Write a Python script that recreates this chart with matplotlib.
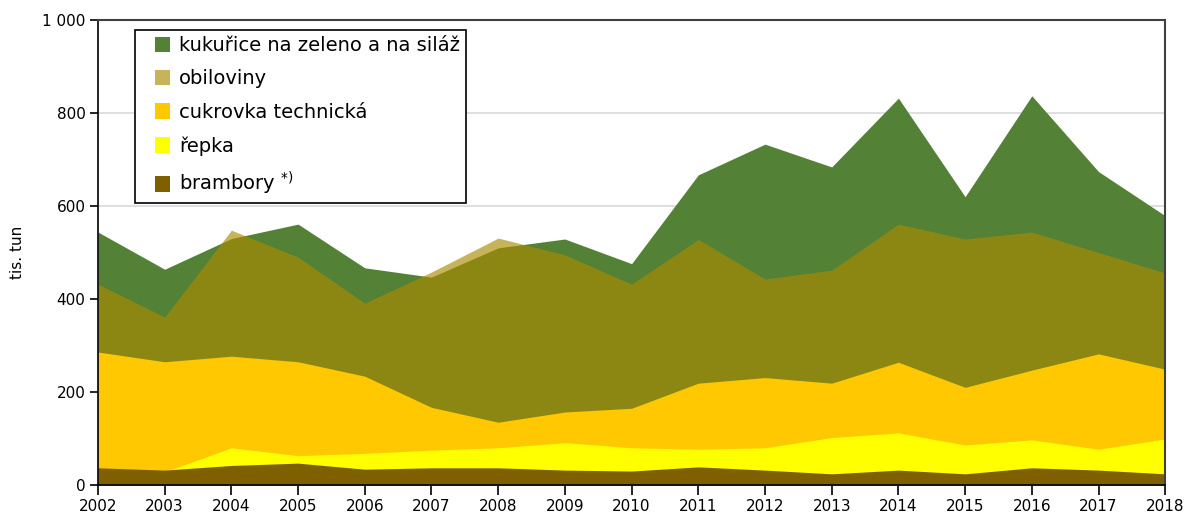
import matplotlib.pyplot as plt
from matplotlib.patches import Patch, Rectangle
from matplotlib.legend_handler import HandlerPatch
from matplotlib.ticker import FuncFormatter

years = list(range(2002, 2019))

# tis. tun
kukurice = [544, 464, 530, 561, 467, 447, 510, 529, 476, 667, 733, 684, 832, 620, 837, 674, 579]
obiloviny = [432, 361, 548, 490, 391, 458, 531, 495, 432, 528, 443, 462, 561, 529, 544, 500, 456]
cukrovka = [286, 265, 277, 265, 234, 167, 135, 157, 165, 219, 231, 219, 264, 210, 247, 282, 249]
repka = [30, 28, 80, 63, 68, 75, 80, 91, 80, 77, 80, 102, 112, 86, 97, 77, 99]
brambory = [37, 32, 42, 47, 34, 37, 37, 32, 30, 39, 32, 24, 32, 24, 37, 32, 24]

labels = ['kukuřice na zeleno a na siláž', 'obiloviny', 'cukrovka technická',
          'řepka', 'brambory $^{*)}$']
colors = ['#538135', '#AA8B00', '#FFC800', '#FFFF00', '#7F6000']
alphas = [1, 0.65, 1, 1, 1]

plt.rcParams['font.family'] = ['DejaVu Sans']


class SquareRight(HandlerPatch):
    # small square sitting at the right end of the handle box
    def create_artists(self, legend, orig, xdescent, ydescent, width, height, fontsize, trans):
        s = 11
        r = Rectangle((width - s - xdescent, height / 2 - s / 2 - ydescent), s, s,
                      facecolor=orig.get_facecolor(), edgecolor='none', transform=trans)
        return [r]


fig = plt.figure(figsize=(11.89, 5.22), dpi=100)
ax = fig.add_axes([0.0824, 0.0709, 0.8976, 0.8908])

series = [kukurice, obiloviny, cukrovka, repka, brambory]
for vals, c, a in zip(series, colors, alphas):
    ax.fill_between(years, 0, vals, color=c, alpha=a, linewidth=0, zorder=2)

ax.set_xlim(2002, 2018)
ax.set_ylim(0, 1000)
ax.set_xticks(years)
ax.set_yticks(range(0, 1001, 200))
ax.yaxis.set_major_formatter(FuncFormatter(lambda v, p: f'{int(v):,}'.replace(',', ' ')))
ax.grid(axis='y', color='#D9D9D9', linewidth=1.2, zorder=0)
ax.set_axisbelow(True)

for s in ['top', 'right']:
    ax.spines[s].set_color('#404040')
    ax.spines[s].set_linewidth(1.5)
for s in ['left', 'bottom']:
    ax.spines[s].set_color('black')
    ax.spines[s].set_linewidth(1.2)
ax.tick_params(axis='x', direction='out', length=7, width=1.2, labelsize=11, pad=3)
ax.tick_params(axis='y', direction='out', length=6, width=1.2, labelsize=11, pad=3)
ax.set_ylabel('tis. tun', fontsize=11, labelpad=12)

handles = [Patch(facecolor=c, alpha=a, edgecolor='none') for c, a in zip(colors, alphas)]
leg = ax.legend(handles, labels, loc='upper left', bbox_to_anchor=(0.0347, 0.978),
                borderaxespad=0, fontsize=14, frameon=True, fancybox=False,
                edgecolor='black', handlelength=1.5, handleheight=0.7, handletextpad=0.45,
                labelspacing=0.74, borderpad=0.3, framealpha=1,
                handler_map={Patch: SquareRight()})
leg.get_frame().set_linewidth(1.2)

fig.savefig('out.png', dpi=100)
